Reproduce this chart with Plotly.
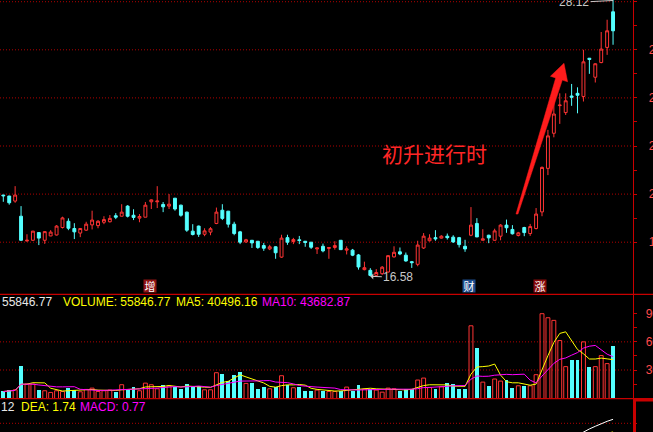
import plotly.graph_objects as go
import pandas as pd

# ---------------- data ----------------
opens = [19.96,19.92,19.71,19.08,18.05,18.08,18.40,18.08,18.26,18.30,
         18.61,18.87,18.57,18.38,18.50,18.72,18.69,18.83,18.85,19.10,
         19.08,19.50,19.12,19.00,19.04,19.68,19.68,19.57,19.50,19.83,
         19.54,19.25,18.46,18.67,18.33,18.42,18.78,19.33,19.29,18.75,
         18.43,18.01,18.08,18.04,17.86,17.72,17.81,17.38,18.19,18.03,
         18.10,18.04,18.00,17.72,17.83,17.74,17.78,18.08,17.67,17.67,
         17.47,16.86,16.83,16.62,16.69,16.76,17.39,17.60,17.46,17.19,
         17.08,17.76,18.06,18.19,18.17,18.25,18.21,18.19,17.83,18.29,
         18.78,18.08,18.29,18.08,18.25,18.71,18.53,18.28,18.61,18.36,
         18.57,19.26,21.07,22.53,23.68,23.39,24.08,24.19,24.06,25.65,
         24.86,25.47,26.10,27.58]
highs = [19.97,19.93,20.33,19.50,18.33,18.47,18.41,18.45,18.50,18.71,
         19.06,18.99,18.79,18.58,18.85,19.31,18.92,19.08,19.13,19.21,
         19.58,19.54,19.37,19.17,19.67,19.78,20.33,19.67,20.00,19.84,
         19.56,19.27,18.75,18.69,18.58,18.63,19.44,19.58,19.30,18.85,
         18.47,18.14,18.09,18.05,17.97,17.89,17.83,18.31,18.31,18.18,
         18.26,18.05,18.01,17.77,17.94,17.79,18.04,18.08,17.83,17.72,
         17.51,17.19,16.92,16.88,17.01,17.46,17.83,17.78,17.57,17.22,
         18.06,18.38,18.33,18.50,18.29,18.36,18.29,18.22,18.10,19.46,
         19.00,18.54,18.31,18.56,18.75,18.94,18.71,18.43,18.64,18.76,
         19.42,21.15,22.67,23.85,24.19,24.19,24.58,24.44,26.00,25.66,
         25.44,26.74,27.25,28.12]
lows = [19.68,19.56,19.64,18.06,18.03,18.06,17.88,17.93,18.25,18.28,
        18.57,18.50,18.13,18.21,18.47,18.53,18.58,18.75,18.82,18.96,
        19.08,19.03,18.92,18.83,19.04,19.38,19.42,19.25,19.38,19.31,
        19.06,18.43,18.28,18.22,18.25,18.29,18.75,18.92,18.61,18.29,
        17.92,17.97,17.76,17.72,17.64,17.67,17.31,17.35,17.89,17.92,
        17.92,17.81,17.72,17.51,17.58,17.31,17.69,17.69,17.49,17.42,
        16.86,16.83,16.58,16.60,16.64,16.74,17.36,17.46,17.19,16.93,
        17.00,17.72,18.03,18.06,18.15,18.11,17.97,17.78,17.60,18.25,
        18.21,18.08,17.96,18.07,18.08,18.39,18.32,18.24,18.25,18.26,
        18.53,19.08,20.79,22.36,22.92,23.29,23.67,23.36,23.85,25.00,
        24.64,25.44,25.79,26.21]
closes = [19.93,19.64,19.96,18.08,18.08,18.46,18.17,18.44,18.42,18.67,
          19.01,18.58,18.43,18.57,18.75,18.92,18.87,18.94,18.99,19.04,
          19.25,19.08,19.03,19.07,19.54,19.76,19.71,19.47,19.58,19.38,
          19.12,18.50,18.32,18.33,18.47,18.56,19.25,18.99,18.75,18.36,
          18.00,18.10,17.97,17.78,17.75,17.81,17.56,18.17,18.00,18.11,
          18.07,17.99,17.79,17.76,17.64,17.78,17.86,17.69,17.72,17.46,
          16.97,16.94,16.62,16.74,16.96,17.44,17.58,17.51,17.22,17.15,
          17.88,18.25,18.17,18.14,18.25,18.19,18.01,17.90,17.72,18.71,
          18.22,18.14,18.18,18.47,18.71,18.60,18.35,18.39,18.40,18.65,
          19.17,21.11,22.42,23.33,23.70,23.88,24.03,24.11,25.50,25.60,
          25.42,26.03,26.79,26.79]
volumes = [7100,8900,8900,34600,15000,15000,8900,7900,6100,7900,
           7100,10700,8900,6800,9300,10700,7100,7900,8600,6400,
           14300,9300,12100,7900,16000,14300,10000,14300,12900,12100,
           10000,15400,11400,12900,8900,8900,27100,26100,18600,24600,
           28200,15700,15700,10000,11400,10000,11400,23900,14300,11100,
           12100,7900,7100,8600,7900,7100,7100,7900,11800,7900,
           13600,9600,10000,8600,6400,10700,10000,7100,10000,9300,
           19300,21400,11400,10000,12100,15700,15000,10000,10000,77100,
           53900,17100,13200,20400,18200,18900,11100,13200,12500,13200,
           25000,90000,85700,82900,61400,33600,40700,40700,60000,33600,
           33600,45400,36800,55846.77]
# MACD panel: only the last few points are inside the visible strip
macd_idx = [97, 98, 99, 100, 101, 102, 103]
dif_vals = [1.64, 1.74, 1.83, 1.91, 1.99, 2.06, 2.12]
dea_vals = [1.52, 1.56, 1.60, 1.64, 1.67, 1.71, 1.74]

price_ticks = [18, 20, 22, 24, 26, 28]
price_ticktext = ["18.00", "20.00", "22.00", "24.00", "26.00", "28.00"]
price_minor = [19, 21, 23, 25, 27]
vol_ticks = [30000, 60000, 90000]
vol_ticktext = ["30000", "60000", "90000"]
vol_minor = [15000, 45000, 75000]

headline_vol = ["55846.77", "VOLUME: 55846.77", "MA5: 40496.16", "MA10: 43682.87"]
headline_macd = ["12", "DEA: 1.74", "MACD: 0.77"]
caption = "初升进行时"
marks = [("增", 24.8, "#8e1414"), ("财", 78.7, "#1d4c8c"), ("涨", 90.7, "#860a0a")]
high_label = "28.12"
low_label = "16.58"

# ---------------- styling ----------------
RED = "#ff3434"
CYAN = "#54ffff"
GRID = "#b00000"
AXIS = "#c80000"
LABEL = "#ff4a4a"
W, H = 653, 432
XDOM = 633.3 / W
XR = [-0.557, 106.42]
YR = [15.846, 28.071]
BARW = 0.66

idx = list(range(len(opens)))
up = [c >= o for o, c in zip(opens, closes)]
vol_s = pd.Series(volumes)
ma5 = vol_s.rolling(5, min_periods=1).mean().tolist()
ma10 = vol_s.rolling(10, min_periods=1).mean().tolist()

fig = go.Figure()
fig.add_trace(go.Candlestick(
    x=idx, open=opens, high=highs, low=lows, close=closes,
    increasing=dict(line=dict(color=RED, width=1), fillcolor="#000000"),
    decreasing=dict(line=dict(color=CYAN, width=1), fillcolor=CYAN),
    whiskerwidth=0, xaxis="x", yaxis="y", hoverinfo="skip"))

# falling days: filled cyan volume bars
dn_x = [i for i in idx if not up[i]]
dn_v = [volumes[i] for i in idx if not up[i]]
fig.add_trace(go.Bar(x=dn_x, y=dn_v, width=BARW, marker=dict(color=CYAN, line=dict(width=0)),
                     xaxis="x2", yaxis="y2", hoverinfo="skip"))
# rising days: hollow red volume bars (outlines)
ox, oy = [], []
for i in idx:
    if up[i]:
        l, r = i - BARW / 2, i + BARW / 2
        ox += [l, l, r, r, None]
        oy += [0, volumes[i], volumes[i], 0, None]
fig.add_trace(go.Scatter(x=ox, y=oy, mode="lines", line=dict(color=RED, width=1),
                         xaxis="x2", yaxis="y2", hoverinfo="skip"))
fig.add_trace(go.Scatter(x=idx, y=ma5, mode="lines", line=dict(color="#ffff00", width=1),
                         xaxis="x2", yaxis="y2", hoverinfo="skip"))
fig.add_trace(go.Scatter(x=idx, y=ma10, mode="lines", line=dict(color="#ff00ff", width=1),
                         xaxis="x2", yaxis="y2", hoverinfo="skip"))
fig.add_trace(go.Scatter(x=macd_idx, y=dea_vals, mode="lines", line=dict(color="#ffff00", width=1),
                         xaxis="x3", yaxis="y3", hoverinfo="skip"))
fig.add_trace(go.Scatter(x=macd_idx, y=dif_vals, mode="lines", line=dict(color="#ffffff", width=1),
                         xaxis="x3", yaxis="y3", hoverinfo="skip"))

def pfrac(py):
    return 1 - py / H

xcommon = dict(domain=[0, XDOM], range=XR, visible=False, fixedrange=True, automargin=False)
ycommon = dict(side="right", showline=True, linecolor=AXIS, linewidth=1,
               ticks="outside", ticklen=3, tickcolor=AXIS, showgrid=False, zeroline=False,
               tickfont=dict(family="Liberation Sans, Arial", size=12, color=LABEL),
               fixedrange=True, automargin=False)

fig.update_layout(
    width=W, height=H, margin=dict(l=0, r=0, t=0, b=0, pad=0, autoexpand=False),
    paper_bgcolor="#000000", plot_bgcolor="#000000", showlegend=False,
    hovermode=False, bargap=0,
    xaxis=dict(**xcommon, anchor="y", rangeslider=dict(visible=False)),
    xaxis2=dict(**xcommon, anchor="y2"),
    xaxis3=dict(**xcommon, anchor="y3"),
    yaxis=dict(**ycommon, domain=[pfrac(294), 1], range=YR, anchor="x",
               tickvals=price_ticks, ticktext=price_ticktext, ticklabelstandoff=9,
               minor=dict(tickvals=price_minor, ticks="outside", ticklen=3, tickcolor=AXIS)),
    yaxis2=dict(**ycommon, domain=[pfrac(398.5), pfrac(294)], range=[-370, 111000], anchor="x2",
                tickvals=vol_ticks, ticktext=vol_ticktext, ticklabelstandoff=6,
                minor=dict(tickvals=vol_minor, ticks="outside", ticklen=3, tickcolor=AXIS)),
    yaxis3=dict(**ycommon, domain=[0, pfrac(398.5)], range=[1.739, 2.745], anchor="x3",
                tickvals=[2.0], ticktext=[""]),
)

shapes = []
dot = "1px,2px"
for v in price_ticks:
    shapes.append(dict(type="line", xref="x domain", x0=0, x1=1, yref="y", y0=v, y1=v,
                       line=dict(color=GRID, width=1, dash=dot), layer="below"))
for v in [30000, 60000]:
    shapes.append(dict(type="line", xref="x2 domain", x0=0, x1=1, yref="y2", y0=v, y1=v,
                       line=dict(color=GRID, width=1, dash=dot), layer="below"))
shapes.append(dict(type="line", xref="x3 domain", x0=0, x1=1, yref="y3", y0=2.0, y1=2.0,
                   line=dict(color=GRID, width=1, dash=dot), layer="below"))
# panel separators
for py in [294.3, 398.7]:
    shapes.append(dict(type="line", xref="paper", x0=0, x1=1, yref="paper", y0=pfrac(py), y1=pfrac(py),
                       line=dict(color=AXIS, width=1.2)))
# heavy frame of the MACD axis corner
shapes.append(dict(type="line", xref="paper", x0=634.5 / W, x1=634.5 / W, yref="paper",
                   y0=0, y1=pfrac(398.5), line=dict(color=AXIS, width=3)))
shapes.append(dict(type="line", xref="paper", x0=633 / W, x1=1, yref="paper",
                   y0=pfrac(400), y1=pfrac(400), line=dict(color=AXIS, width=3)))

# big tapered red arrow (data coordinates of the price panel)
arrow_pts = [(86.60, 19.17), (93.31, 24.83), (92.42, 24.90), (94.71, 25.44),
             (95.32, 24.67), (94.43, 24.74), (86.94, 19.17)]
path = "M " + " L ".join(f"{x},{y}" for x, y in arrow_pts) + " Z"
shapes.append(dict(type="path", xref="x", yref="y", path=path,
                   fillcolor="#ff1c1c", line=dict(color="#ff1c1c", width=0.5)))
fig.update_layout(shapes=shapes)

ann = []
# caption
ann.append(dict(text=caption, x=72.84, y=21.71, xref="x", yref="y", showarrow=False,
                font=dict(family="Noto Sans CJK SC", size=21, color="#ff2626")))
# event marks
for ch, xi, bg in marks:
    ann.append(dict(text=ch, x=xi, y=16.18, xref="x", yref="y", showarrow=False,
                    bgcolor=bg, width=12, height=12, borderpad=0,
                    font=dict(family="Noto Sans CJK SC", size=11, color="#ffffff")))
# high / low labels (the high lies just above the visible range, so anchor at the top edge)
hi_anchor = min(highs[-1], YR[1] - 0.02)
ann.append(dict(text=high_label, x=103, y=hi_anchor, xref="x", yref="y", showarrow=True,
                ax=-39, ay=2, arrowhead=0, arrowwidth=1, arrowcolor="#c8c8c8", standoff=0,
                font=dict(family="Liberation Sans, Arial", size=12, color="#c8c8c8")))
ann.append(dict(text=low_label, x=62, y=lows[62], xref="x", yref="y", showarrow=True,
                ax=28, ay=1, arrowhead=1, arrowsize=1, arrowwidth=1, arrowcolor="#c8c8c8",
                font=dict(family="Liberation Sans, Arial", size=12, color="#c8c8c8")))
# header lines
vol_pos = [(1, "#e8e8e8"), (62, "#ffff00"), (175, "#ffff00"), (261, "#ff00ff")]
for txt, (px, col) in zip(headline_vol, vol_pos):
    ann.append(dict(text=txt, x=px / W, y=pfrac(302), xref="paper", yref="paper", showarrow=False,
                    xanchor="left", yanchor="middle", borderpad=0,
                    font=dict(family="Liberation Sans, Arial", size=12, color=col)))
macd_pos = [(0, "#e8e8e8"), (20, "#ffff00"), (79, "#ff00ff")]
for txt, (px, col) in zip(headline_macd, macd_pos):
    ann.append(dict(text=txt, x=px / W, y=pfrac(407), xref="paper", yref="paper", showarrow=False,
                    xanchor="left", yanchor="middle", borderpad=0,
                    font=dict(family="Liberation Sans, Arial", size=12, color=col)))
fig.update_layout(annotations=ann)

fig.write_html("out.html", config={"displayModeBar": False},
               post_script="document.body.style.margin='0';document.body.style.background='#000';"
                           "document.body.style.overflow='hidden';")
